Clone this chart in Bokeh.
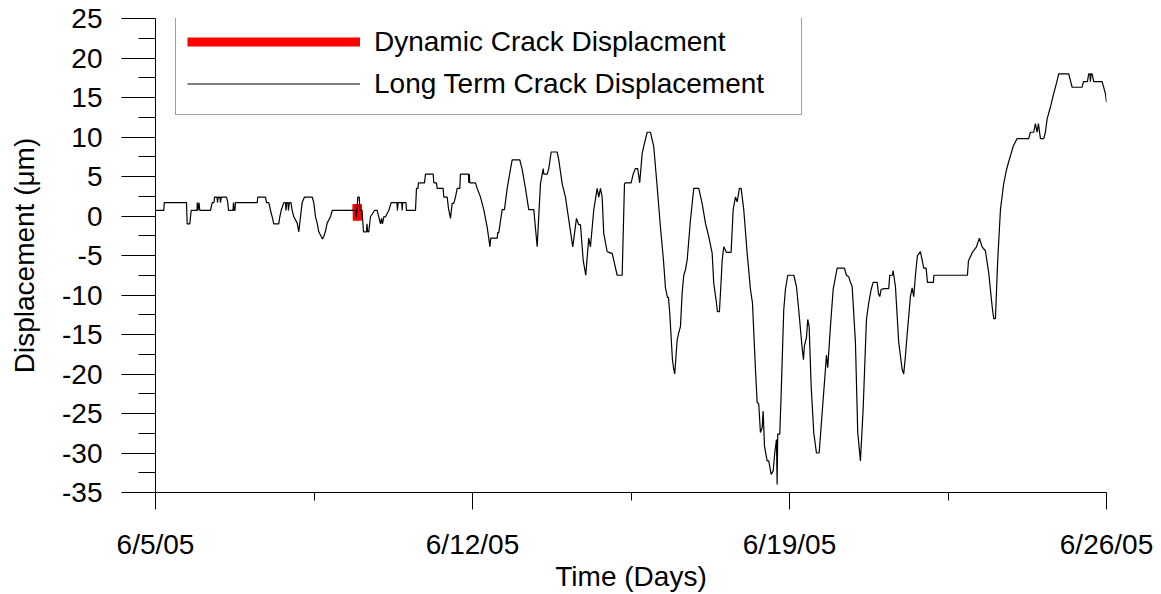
from bokeh.plotting import figure
from bokeh.models import Range1d, FixedTicker, Legend, LegendItem
from bokeh.embed import file_html
from bokeh.resources import INLINE

# Long term crack displacement: time in days since 6/5/05, displacement in micrometres
days = [
    0.000, 0.183, 0.194, 0.684, 0.700, 0.757, 0.788, 0.916, 0.923, 0.938, 0.960, 0.978,
    1.214, 1.252, 1.292, 1.303, 1.358, 1.369, 1.387, 1.424, 1.435, 1.453, 1.568, 1.596,
    1.612, 1.711, 1.722, 1.738, 1.755, 1.766, 2.246, 2.259, 2.429, 2.451, 2.502, 2.539,
    2.577, 2.612, 2.722, 2.745, 2.775, 2.833, 2.870, 2.881, 2.899, 2.926, 2.937, 2.954,
    2.992, 3.018, 3.054, 3.129, 3.164, 3.202, 3.239, 3.290, 3.460, 3.495, 3.533, 3.570,
    3.606, 3.659, 3.687, 3.716, 3.754, 3.791, 3.864, 3.902, 4.416, 4.438, 4.467, 4.498,
    4.515, 4.560, 4.593, 4.659, 4.670, 4.685, 4.710, 4.747, 4.836, 4.895, 4.930, 4.968,
    4.990, 5.012, 5.041, 5.078, 5.151, 5.204, 5.332, 5.343, 5.357, 5.438, 5.447, 5.458,
    5.531, 5.542, 5.741, 5.763, 5.796, 5.807, 5.940, 5.962, 6.132, 6.145, 6.204, 6.220,
    6.352, 6.366, 6.441, 6.469, 6.514, 6.551, 6.586, 6.624, 6.662, 6.719, 6.734, 6.911,
    6.918, 6.929, 6.940, 7.066, 7.103, 7.176, 7.249, 7.324, 7.386, 7.403, 7.545, 7.558,
    7.580, 7.655, 7.706, 7.766, 7.838, 7.876, 8.044, 8.097, 8.170, 8.242, 8.353, 8.428,
    8.501, 8.561, 8.574, 8.649, 8.684, 8.737, 8.870, 8.905, 8.980, 9.053, 9.126, 9.214,
    9.296, 9.346, 9.384, 9.444, 9.501, 9.567, 9.605, 9.678, 9.753, 9.788, 9.826, 9.863,
    9.898, 9.974, 10.046, 10.084, 10.119, 10.194, 10.305, 10.356, 10.378, 10.503, 10.548, 10.598,
    10.649, 10.693, 10.746, 10.782, 10.857, 10.930, 11.002, 11.078, 11.150, 11.217, 11.261, 11.305,
    11.327, 11.356, 11.415, 11.444, 11.466, 11.519, 11.554, 11.592, 11.629, 11.665, 11.702, 11.740,
    11.813, 11.886, 11.996, 12.071, 12.144, 12.217, 12.292, 12.327, 12.387, 12.409, 12.453, 12.491,
    12.513, 12.548, 12.608, 12.711, 12.756, 12.806, 12.844, 12.895, 12.932, 12.990, 13.065, 13.138,
    13.182, 13.248, 13.286, 13.321, 13.358, 13.396, 13.418, 13.447, 13.506, 13.542, 13.595, 13.639,
    13.674, 13.712, 13.727, 13.740, 13.785, 13.815, 13.873, 13.910, 13.961, 14.094, 14.153, 14.204,
    14.279, 14.308, 14.330, 14.374, 14.403, 14.434, 14.478, 14.535, 14.595, 14.655, 14.721, 14.794,
    14.816, 14.844, 14.904, 14.964, 15.052, 15.213, 15.257, 15.308, 15.346, 15.383, 15.456, 15.507,
    15.566, 15.626, 15.699, 15.750, 15.803, 15.847, 15.935, 15.964, 15.993, 16.023, 16.081, 16.191,
    16.213, 16.273, 16.288, 16.302, 16.339, 16.412, 16.487, 16.522, 16.560, 16.598, 16.670, 16.708,
    16.743, 16.781, 16.825, 16.891, 16.929, 16.964, 17.017, 17.046, 17.178, 17.189, 17.929, 17.951,
    18.039, 18.128, 18.194, 18.253, 18.326, 18.399, 18.474, 18.510, 18.547, 18.598, 18.658, 18.730,
    18.790, 18.841, 18.894, 18.938, 19.026, 19.282, 19.320, 19.393, 19.430, 19.468, 19.497, 19.541,
    19.614, 19.651, 19.689, 19.762, 19.834, 19.894, 19.945, 20.166, 20.241, 20.462, 20.490, 20.579,
    20.607, 20.634, 20.645, 20.660, 20.682, 20.718, 20.903, 20.976, 21.000,
]
disp = [
    0.7, 0.7, 1.7, 1.7, -1.0, -1.0, 0.7, 0.7, 1.7, 0.7, 1.7, 0.7,
    0.7, 1.7, 1.7, 2.4, 2.4, 1.7, 2.4, 2.4, 1.7, 2.4, 2.4, 1.7,
    0.7, 0.7, 1.7, 0.7, 0.7, 1.7, 1.7, 2.4, 2.4, 1.7, 1.7, 0.7,
    -0.1, -1.0, -1.0, -0.1, 0.7, 1.7, 1.7, 0.7, 1.7, 1.7, 0.7, 1.7,
    1.7, 0.7, -0.1, -0.9, -2.0, -0.1, 1.7, 2.4, 2.4, 1.7, -0.1, -0.9,
    -2.0, -2.6, -2.9, -2.6, -1.9, -0.9, -0.1, 0.7, 0.7, -0.2, 2.4, 2.4,
    0.7, 0.7, -2.0, -2.0, -1.0, -2.0, -2.0, -0.1, 0.7, 0.7, -0.1, -1.0,
    -0.3, -1.0, -0.1, -0.1, 0.7, 1.7, 1.7, 0.7, 1.7, 1.7, 0.7, 1.7,
    1.7, 0.7, 0.7, 3.5, 3.5, 4.2, 4.2, 5.3, 5.3, 4.2, 4.2, 3.5,
    3.5, 2.4, 2.4, 1.0, -0.3, 1.6, 1.6, 2.4, 3.5, 3.5, 5.3, 5.3,
    4.2, 5.3, 4.2, 4.2, 3.5, 2.4, 0.8, -1.4, -3.9, -2.8, -2.8, -2.1,
    -2.1, 0.8, 0.8, 3.5, 5.9, 7.1, 7.1, 5.9, 3.5, 0.8, 0.8, -3.9,
    4.1, 6.0, 5.3, 5.3, 6.0, 8.1, 8.1, 7.1, 4.1, 2.4, -0.5, -3.9,
    -0.3, -1.1, -1.1, -5.6, -7.5, -2.8, -3.9, 0.8, 3.5, 2.4, 3.5, 2.4,
    -2.2, -4.5, -4.7, -4.7, -5.6, -7.5, -7.5, 4.1, 4.2, 4.2, 5.3, 6.0,
    6.0, 4.2, 7.9, 8.8, 10.6, 10.6, 8.8, 3.7, -1.4, -5.6, -9.1, -10.3,
    -10.3, -12.3, -18.2, -19.4, -20.0, -15.7, -14.8, -14.0, -9.8, -7.5, -6.8, -5.6,
    -0.5, 3.5, 3.5, 1.6, -0.9, -2.6, -4.7, -8.5, -11.0, -12.1, -12.1, -8.1,
    -5.6, -3.9, -4.6, -4.6, 0.8, 2.4, 1.8, 3.5, 3.5, 0.8, -4.7, -9.3,
    -11.0, -19.4, -23.6, -23.8, -27.4, -26.8, -24.7, -29.1, -31.0, -31.0, -32.7, -32.3,
    -30.0, -28.3, -34.0, -27.6, -27.6, -22.7, -11.9, -9.3, -7.5, -7.5, -8.9, -11.9,
    -16.7, -18.2, -16.4, -15.4, -13.1, -14.0, -21.5, -27.4, -30.0, -30.0, -24.9, -19.4,
    -17.6, -19.2, -14.0, -9.3, -6.6, -6.6, -7.5, -7.7, -8.4, -8.9, -16.0, -27.4,
    -31.0, -24.5, -13.1, -11.0, -9.3, -8.4, -8.4, -9.8, -10.2, -9.3, -9.2, -9.2,
    -7.5, -7.5, -6.9, -7.5, -8.9, -16.0, -19.4, -20.0, -17.7, -15.0, -10.2, -9.1,
    -10.2, -7.5, -5.0, -4.5, -5.6, -6.6, -6.6, -8.4, -8.4, -7.5, -7.5, -5.7,
    -4.6, -3.9, -2.8, -3.9, -4.4, -7.2, -11.4, -13.0, -13.0, -5.6, 0.8, 4.1,
    5.8, 6.9, 7.9, 8.8, 9.8, 9.8, 10.6, 10.6, 11.7, 10.6, 11.7, 9.8,
    9.8, 10.6, 12.3, 13.8, 15.5, 16.8, 18.0, 18.0, 16.3, 16.3, 17.0, 17.0,
    18.0, 18.0, 17.0, 18.0, 18.0, 17.0, 17.0, 15.5, 14.4,
]

# Dynamic crack displacement burst (short record)
dyn_days = [4.445, 4.450, 4.455, 4.460, 4.465, 4.470]
dyn_disp = [0.7, 1.5, -0.6, 1.4, -0.5, 0.8]

x_tick_days = [0, 7, 14, 21]
x_tick_labels = ["6/5/05", "6/12/05", "6/19/05", "6/26/05"]
x_minor_days = [3.5, 10.5, 17.5]
y_ticks = [-35, -30, -25, -20, -15, -10, -5, 0, 5, 10, 15, 20, 25]
y_tick_labels = ["-35", "-30", "-25", "-20", "-15", "-10", "-5", "0", "5", "10", "15", "20", "25"]
y_minor = [-32.5, -27.5, -22.5, -17.5, -12.5, -7.5, -2.5, 2.5, 7.5, 12.5, 17.5, 22.5]

FONT = "Liberation Sans"

p = figure(width=1161, height=594, output_backend="svg", toolbar_location=None,
           x_range=Range1d(0, 21), y_range=Range1d(-35, 25),
           min_border_left=155, min_border_right=55, min_border_top=18, min_border_bottom=101)
p.outline_line_color = None
p.xgrid.visible = False
p.ygrid.visible = False
p.background_fill_color = "white"
p.border_fill_color = "white"

r_dyn = p.line(dyn_days, dyn_disp, line_color="#ff0000", line_width=9)
r_lt = p.line(days, disp, line_color="black", line_width=1.2)

xa = p.xaxis[0]
xa.ticker = FixedTicker(ticks=x_tick_days, minor_ticks=x_minor_days)
xa.major_label_overrides = dict(zip(x_tick_days, x_tick_labels))
xa.major_tick_out = 17
xa.major_tick_in = 0
xa.minor_tick_out = 8
xa.minor_tick_in = 0
xa.major_label_standoff = 19
xa.axis_label = "Time (Days)"
xa.axis_label_standoff = -2

ya = p.yaxis[0]
ya.ticker = FixedTicker(ticks=y_ticks, minor_ticks=y_minor)
ya.major_label_overrides = dict(zip(y_ticks, y_tick_labels))
ya.major_tick_out = 34
ya.major_tick_in = 0
ya.minor_tick_out = 17
ya.minor_tick_in = 0
ya.major_label_standoff = 19
ya.axis_label = "Displacement (\u03bcm)"
ya.axis_label_standoff = 19

for ax in (xa, ya):
    ax.axis_line_color = "black"
    ax.major_tick_line_color = "black"
    ax.minor_tick_line_color = "black"
    ax.major_label_text_font = FONT
    ax.major_label_text_font_size = "28px"
    ax.major_label_text_color = "black"
    ax.axis_label_text_font = FONT
    ax.axis_label_text_font_size = "28px"
    ax.axis_label_text_font_style = "normal"
    ax.axis_label_text_color = "black"

legend = Legend(items=[LegendItem(label="Dynamic Crack Displacment", renderers=[r_dyn]),
                       LegendItem(label="Long Term Crack Displacement", renderers=[r_lt])],
                location=(20, 377), orientation="vertical",
                glyph_width=173, glyph_height=39, label_height=39, label_width=416,
                label_standoff=14, padding=11, spacing=3, margin=0,
                label_text_font=FONT, label_text_font_size="28px", label_text_color="black",
                border_line_color="#404040", border_line_width=1,
                background_fill_color="white", background_fill_alpha=1.0)
p.add_layout(legend, "center")

open("out.html", "w").write(file_html(p, INLINE))
